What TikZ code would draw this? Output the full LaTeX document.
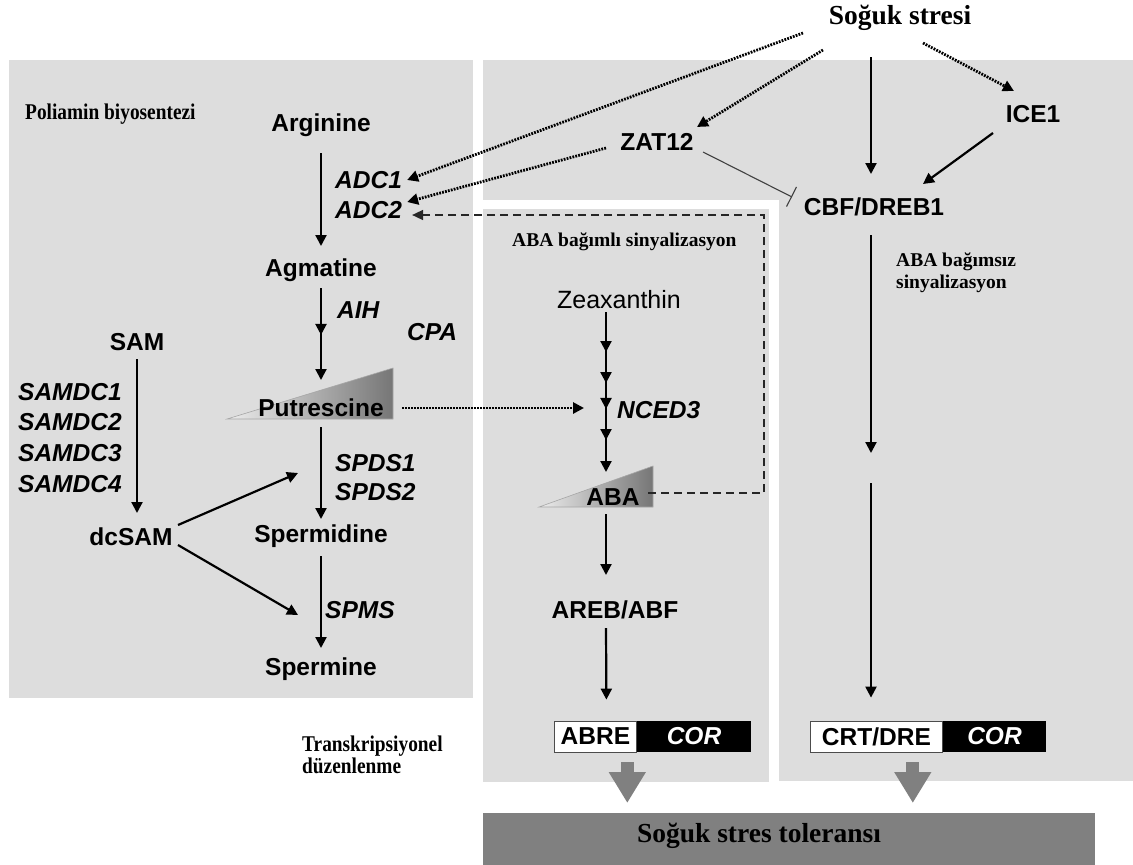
\documentclass[tikz,border=0pt]{standalone}
\usepackage{fontspec}
\setmainfont{Liberation Serif}
\setsansfont{Liberation Sans}
\newfontfamily\condserif[FakeStretch=0.86]{Liberation Serif}
\usetikzlibrary{arrows.meta, positioning, calc, decorations.markings}
\definecolor{panelgray}{RGB}{221,221,221}
\definecolor{tolgray}{RGB}{128,128,128}
\definecolor{wedgelight}{RGB}{236,236,236}
\definecolor{wedgedark}{RGB}{118,118,118}
\newcommand{\boldsans}{\sffamily\bfseries\fontsize{24.5}{28}\selectfont}
\newcommand{\plainsans}{\sffamily\fontsize{25}{28}\selectfont}
\newcommand{\genesans}{\sffamily\bfseries\itshape\fontsize{24.5}{28}\selectfont}
\newcommand{\notefont}{\rmfamily\bfseries\fontsize{19.5}{22}\selectfont}
\newcommand{\tallnote}{\condserif\bfseries\fontsize{22.5}{22}\selectfont}
\newcommand{\titlefont}{\rmfamily\bfseries\fontsize{27.5}{30}\selectfont}

\tikzset{
  metab/.style={font=\boldsans, inner sep=0pt},
  enzyme/.style={font=\genesans, inner sep=0pt, anchor=west},
  note/.style={font=\notefont, inner sep=0pt, anchor=west, align=left},
  arr/.style={line width=2.2pt, -{Triangle[length=11pt,width=11pt]}},
  dotarr/.style={line width=2.8pt, dash pattern=on 1.8pt off 1.2pt, -{Triangle[length=11pt,width=11pt]}},
  dasharr/.style={line width=1.6pt, black!85, dash pattern=on 8pt off 5pt, -{Triangle[length=11pt,width=10pt]}},
  inhib/.style={line width=1.1pt, black!75, -{Bar[width=22pt]}},
  tipat/.style={postaction={decorate, decoration={markings,
      mark=at position #1 with {\arrow{Triangle[length=11pt,width=11pt]}}}}},
  wedge/.style={draw=gray!70, line width=0.6pt, left color=wedgelight, right color=wedgedark},
  blockarr/.style={line width=13pt, tolgray, -{Triangle[length=31pt,width=35pt]}},
  promoter/.style={draw=black!70, fill=white, line width=0.8pt, font=\boldsans,
      minimum height=31pt, inner sep=0pt},
  corbox/.style={fill=black, text=white, font=\genesans, minimum height=31pt, inner sep=0pt}
}

\begin{document}
\begin{tikzpicture}[x=1pt, y=-1pt]
\useasboundingbox (0,0) rectangle (1133,865);

% panels
\fill[panelgray] (9,60) rectangle (473,698);
\fill[panelgray] (483,60) rectangle (1133,200);
\fill[panelgray] (779,200) rectangle (1133,781);
\fill[panelgray] (483,209) rectangle (769,782);

% gradient wedges
\shadedraw[wedge] (227,419) -- (393,419) -- (393,368) -- cycle;
\shadedraw[wedge] (539,507) -- (653,507) -- (653,466) -- cycle;

% polyamine side
\node[font=\titlefont, inner sep=0pt] (soguk) at (900,18) {Soğuk stresi};
\node[note, font=\tallnote] (poli) at (25,114) {Poliamin biyosentezi};
\node[metab] (arg) at (321,125) {Arginine};
\node[enzyme] (adc1) at (335,180) {ADC1};
\node[enzyme] (adc2) at (335,210) {ADC2};
\node[metab] (agm) at (321,270) {Agmatine};
\node[enzyme] (aih) at (337,310) {AIH};
\node[enzyme] (cpa) at (407,332) {CPA};
\node[metab] (put) at (321,408) {Putrescine};
\node[enzyme] (spds1) at (335,463) {SPDS1};
\node[enzyme] (spds2) at (335,492) {SPDS2};
\node[metab] (spd) at (321,536) {Spermidine};
\node[enzyme] (spms) at (325,610) {SPMS};
\node[metab] (spm) at (321,669) {Spermine};
\node[metab] (sam) at (137,342) {SAM};
\node[enzyme] (samdc1) at (18,392) {SAMDC1};
\node[enzyme] (samdc2) at (18,422) {SAMDC2};
\node[enzyme] (samdc3) at (18,453) {SAMDC3};
\node[enzyme] (samdc4) at (18,484) {SAMDC4};
\node[metab] (dcsam) at (131,537) {dcSAM};

% signalling side
\node[metab] (zat) at (657,142) {ZAT12};
\node[metab] (ice) at (1033,114) {ICE1};
\node[metab] (cbf) at (874,207) {CBF/DREB1};
\node[note] (abadep) at (512,242) {ABA bağımlı sinyalizasyon};
\node[font=\plainsans, inner sep=0pt] (zea) at (619,300) {Zeaxanthin};
\node[enzyme] (nced) at (617,410) {NCED3};
\node[metab] (aba) at (613,497) {ABA};
\node[metab] (areb) at (615,610) {AREB/ABF};
\node[note] (abaind) at (896,273) {ABA bağımsız\\sinyalizasyon};
\node[note, font=\tallnote] (trans) at (302,755) {Transkripsiyonel\\düzenlenme};

% promoters
\node[promoter, minimum width=82pt, anchor=west] (abre) at (554,736.5) {ABRE};
\node[corbox, minimum width=114pt, right=0pt of abre] (cor1) {COR};
\node[promoter, minimum width=132pt, anchor=west] (crt) at (810,736.5) {CRT/DRE};
\node[corbox, minimum width=103pt, right=0pt of crt] (cor2) {COR};

\node[fill=tolgray, minimum width=612pt, minimum height=52pt, inner sep=0pt,
      anchor=north west] (tolbox) at (483,813) {};
\node[font=\titlefont, inner sep=0pt] (toler) at (759,836) {Soğuk stres toleransı};

\coordinate (gapT) at (871,453);
\coordinate (gapB) at (871,483);

% polyamine arrows
\draw[arr] ($(arg)+(0,28)$) -- ($(agm)+(0,-24)$);
\draw[arr, tipat=0.51] ($(agm)+(0,18)$) -- ($(put)+(0,-28)$);
\draw[arr] ($(put)+(0,19)$) -- ($(spd)+(0,-17)$);
\draw[arr] ($(spd)+(0,20)$) -- ($(spm)+(0,-21)$);
\draw[arr] ($(sam)+(0,17)$) -- ($(dcsam)+(6,-24)$);
\draw[arr] ($(dcsam)+(47,-12)$) -- ($(spd)+(-23,-63)$);
\draw[arr] ($(dcsam)+(47,8)$) -- ($(spm)+(-23,-54)$);

% cold stress signals
\draw[dotarr] ($(soguk)+(-97,15)$) -- ([xshift=5pt]adc1.east);
\draw[dotarr] ($(soguk)+(-77,32)$) -- ($(zat)+(40,-15)$);
\draw[dotarr] ($(zat)+(-51,6)$) -- ($(adc2.east)+(5,-8)$);
\draw[dotarr] ($(soguk)+(23,25)$) -- ($(ice)+(-19,-23)$);
\draw[arr] ($(soguk)+(-29,39)$) -- ($(cbf)+(-3,-33)$);
\draw[arr] ($(ice)+(-40,19)$) -- ($(cbf)+(49,-23)$);
\draw[inhib] ($(zat)+(46,10)$) -- ($(cbf)+(-82,-10)$);
\draw[arr] ($(cbf)+(-3,28)$) -- (gapT);
\draw[arr] (gapB) -- ($(gapB |- crt.north)+(0,-23)$);

% ABA branch
\draw[dotarr] ($(put)+(81,0)$) -- ($(nced.west)+(-33,-2)$);
\draw[arr, tipat=0.25, tipat=0.444, tipat=0.606, tipat=0.8]
  ($(zea)+(-13,12)$) -- ($(aba)+(-7,-25)$);
\draw[arr] ($(aba)+(-7,17)$) -- ($(areb)+(-9,-35)$);
\draw[arr] ($(areb)+(-9,18)$) -- ($(abre.north)+(11,-21)$);
\draw[dasharr] ($(aba)+(35,-4)$) -- ++(116,0) |- ($(adc2.east)+(10,5)$);

% tolerance
\draw[blockarr] ($(abre.south east)+(-9.5,10)$) -- ($(abre.south east |- tolbox.north)+(-9.5,-10)$);
\draw[blockarr] ($(crt.south east)+(-30,10)$) -- ($(crt.south east |- tolbox.north)+(-30,-10)$);
\end{tikzpicture}
\end{document}
